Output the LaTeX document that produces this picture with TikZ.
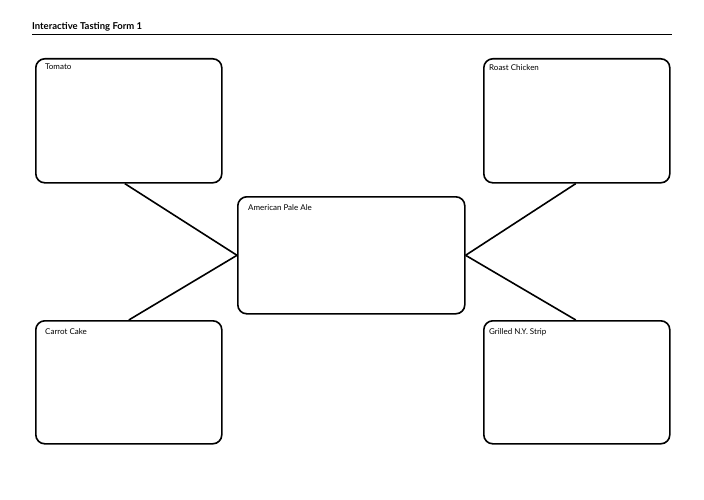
\documentclass[tikz,border=0pt]{standalone}
\usepackage{fontspec}
\setmainfont{Lato}
\begin{document}
\begin{tikzpicture}[x=1pt,y=-1pt,
  box/.style={draw,line width=1.6pt,rounded corners=9pt,minimum width=186pt,minimum height=124pt,anchor=north west},
  lbl/.style={font=\fontsize{8}{9}\selectfont,anchor=north west,inner sep=0pt},
  conn/.style={line width=1.6pt}]
\useasboundingbox (0,0) rectangle (704,500);
\node[lbl,font=\fontsize{9.5}{10}\selectfont\bfseries,anchor=base west] (title) at (32,30) {Interactive Tasting Form 1};
\draw[line width=0.7pt] (32,34) -- (672,34);
\node[box] (tom) at (35,58) {};
\node[box] (chk) at (483,58) {};
\node[box,minimum width=227pt,minimum height=117pt] (ale) at (237,196) {};
\node[box,minimum height=123pt] (car) at (35,320) {};
\node[box,minimum height=123pt] (stp) at (483,320) {};
\node[lbl] (t1) at (45,64) {Tomato};
\node[lbl] (t2) at (489,64) {Roast Chicken};
\node[lbl] (t3) at (248,204) {American Pale Ale};
\node[lbl] (t4) at (45,328) {Carrot Cake};
\node[lbl] (t5) at (489,328) {Grilled N.Y. Strip};
\draw[conn] ([xshift=-4pt]tom.south) -- (ale.west);
\draw[conn] (car.north) -- (ale.west);
\draw[conn] ([xshift=-1pt]chk.south) -- (ale.east);
\draw[conn] ([xshift=-1pt]stp.north) -- (ale.east);
\end{tikzpicture}
\end{document}
